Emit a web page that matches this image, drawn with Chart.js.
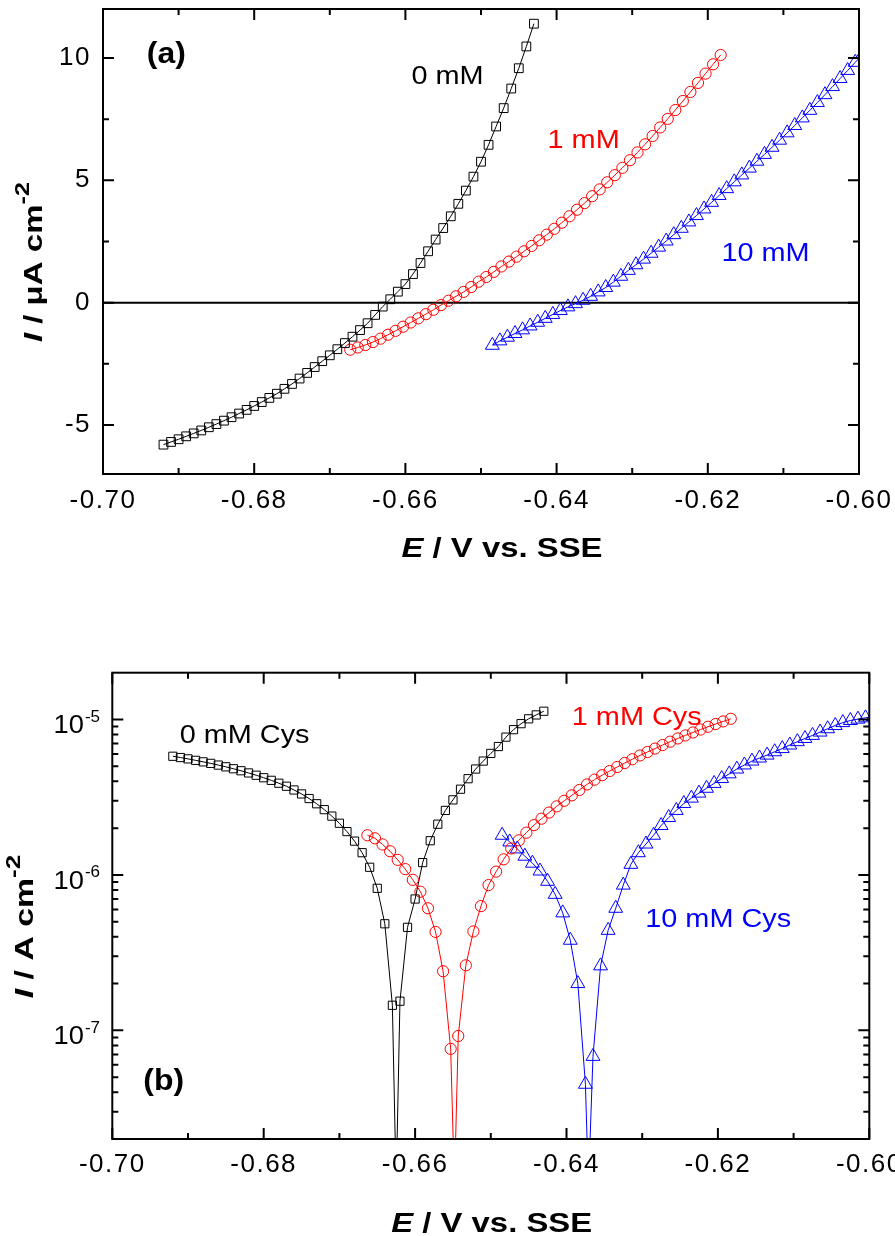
<!DOCTYPE html>
<html>
<head>
<meta charset="utf-8">
<script src="https://cdn.jsdelivr.net/npm/chart.js@4.4.1/dist/chart.umd.min.js"></script>
<style>
html,body{margin:0;padding:0;background:#fff;}
#wrap{position:relative;width:895px;height:1236px;overflow:hidden;background:#fff;}
canvas{position:absolute;left:0;}
#ca{top:0;width:895px;height:600px;}
#cb{top:600px;width:895px;height:636px;}
</style>
</head>
<body>
<div id="wrap">
<canvas id="ca" width="895" height="600"></canvas>
<canvas id="cb" width="895" height="636"></canvas>
</div>
<script>
// ---------------- data ----------------
// potential (V vs. SSE)
const E0 = [-0.692,-0.691,-0.690,-0.689,-0.688,-0.687,-0.686,-0.685,-0.684,-0.683,
            -0.682,-0.681,-0.680,-0.679,-0.678,-0.677,-0.676,-0.675,-0.674,-0.673,
            -0.672,-0.671,-0.670,-0.669,-0.668,-0.667,-0.666,-0.665,-0.664,-0.663,
            -0.662,-0.661,-0.660,-0.659,-0.658,-0.657,-0.656,-0.655,-0.654,-0.653,
            -0.652,-0.651,-0.650,-0.649,-0.648,-0.647,-0.646,-0.645,-0.644,-0.643];
const EA1 = [-0.6673,-0.6663,-0.6653,-0.6643,-0.6633,-0.6623,-0.6613,-0.6603,-0.6593,-0.6583,
             -0.6573,-0.6563,-0.6553,-0.6543,-0.6533,-0.6523,-0.6513,-0.6503,-0.6493,-0.6483,
             -0.6473,-0.6463,-0.6453,-0.6443,-0.6433,-0.6423,-0.6413,-0.6403,-0.6393,-0.6383,
             -0.6373,-0.6363,-0.6353,-0.6343,-0.6333,-0.6323,-0.6313,-0.6303,-0.6293,-0.6283,
             -0.6273,-0.6263,-0.6253,-0.6243,-0.6233,-0.6223,-0.6213,-0.6203,-0.6193,-0.6183];
const EB1 = [-0.6663,-0.6653,-0.6643,-0.6633,-0.6623,-0.6613,-0.6603,-0.6593,-0.6583,-0.6573,
             -0.6563,-0.6553,-0.6543,-0.6533,-0.6523,-0.6513,-0.6503,-0.6493,-0.6483,-0.6473,
             -0.6463,-0.6453,-0.6443,-0.6433,-0.6423,-0.6413,-0.6403,-0.6393,-0.6383,-0.6373,
             -0.6363,-0.6353,-0.6343,-0.6333,-0.6323,-0.6313,-0.6303,-0.6293,-0.6283,-0.6273,
             -0.6263,-0.6253,-0.6243,-0.6233,-0.6223,-0.6213,-0.6203,-0.6193,-0.6183];
const E2 = [-0.6485,-0.6475,-0.6465,-0.6455,-0.6445,-0.6435,-0.6425,-0.6415,-0.6405,-0.6395,
            -0.6385,-0.6375,-0.6365,-0.6355,-0.6345,-0.6335,-0.6325,-0.6315,-0.6305,-0.6295,
            -0.6285,-0.6275,-0.6265,-0.6255,-0.6245,-0.6235,-0.6225,-0.6215,-0.6205,-0.6195,
            -0.6185,-0.6175,-0.6165,-0.6155,-0.6145,-0.6135,-0.6125,-0.6115,-0.6105,-0.6095,
            -0.6085,-0.6075,-0.6065,-0.6055,-0.6045,-0.6035,-0.6025,-0.6015,-0.6005,-0.5995];

// panel (a): current density, µA cm^-2
const IA0 = [-5.80,-5.69,-5.58,-5.46,-5.34,-5.22,-5.09,-4.96,-4.82,-4.68,
             -4.53,-4.38,-4.22,-4.06,-3.89,-3.72,-3.52,-3.32,-3.10,-2.87,
             -2.63,-2.39,-2.15,-1.90,-1.65,-1.39,-1.12,-0.84,-0.50,-0.16,
              0.14, 0.45, 0.76, 1.17, 1.62, 2.10, 2.58, 3.05, 3.53, 4.04,
              4.58, 5.15, 5.76, 6.45, 7.20, 7.95, 8.75, 9.58,10.47,11.40];
const IA1 = [-1.92,-1.83,-1.73,-1.61,-1.47,-1.31,-1.15,-0.98,-0.81,-0.64,
             -0.47,-0.29,-0.10, 0.08, 0.26, 0.44, 0.64, 0.86, 1.05, 1.26,
              1.48, 1.68, 1.88, 2.10, 2.32, 2.55, 2.78, 3.02, 3.27, 3.53,
              3.80, 4.07, 4.35, 4.63, 4.92, 5.21, 5.51, 5.82, 6.14, 6.47,
              6.81, 7.16, 7.51, 7.87, 8.24, 8.61, 8.98, 9.36, 9.74,10.12];
const IA2 = [-1.74,-1.56,-1.41,-1.26,-1.11,-0.95,-0.80,-0.64,-0.48,-0.32,
             -0.17,-0.04, 0.10, 0.26, 0.44, 0.62, 0.84, 1.08, 1.32, 1.55,
              1.78, 2.02, 2.27, 2.52, 2.78, 3.04, 3.30, 3.56, 3.83, 4.10,
              4.38, 4.66, 4.94, 5.22, 5.50, 5.78, 6.06, 6.35, 6.64, 6.94,
              7.24, 7.55, 7.86, 8.18, 8.50, 8.83, 9.16, 9.49, 9.82,10.15];

// panel (b): |I|, A cm^-2
const IB0 = [5.80e-6,5.69e-6,5.58e-6,5.46e-6,5.34e-6,5.22e-6,5.09e-6,4.96e-6,4.82e-6,4.68e-6,
             4.53e-6,4.38e-6,4.22e-6,4.06e-6,3.89e-6,3.72e-6,3.52e-6,3.32e-6,3.10e-6,2.87e-6,
             2.63e-6,2.39e-6,2.15e-6,1.90e-6,1.65e-6,1.39e-6,1.12e-6,8.2e-7,4.85e-7,1.45e-7,
             1.54e-7,4.6e-7,7.0e-7,1.2e-6,1.66e-6,2.12e-6,2.60e-6,3.04e-6,3.56e-6,4.16e-6,
             4.80e-6,5.40e-6,6.05e-6,6.70e-6,7.70e-6,8.60e-6,9.40e-6,1.01e-5,1.07e-5,1.13e-5];
const IB1 = [1.80e-6,1.72e-6,1.57e-6,1.42e-6,1.25e-6,1.09e-6,9.3e-7,7.8e-7,6.1e-7,4.3e-7,
             2.4e-7,7.6e-8,9.2e-8,2.62e-7,4.33e-7,6.3e-7,8.6e-7,1.05e-6,1.26e-6,1.48e-6,
             1.67e-6,1.87e-6,2.09e-6,2.30e-6,2.52e-6,2.76e-6,3.00e-6,3.25e-6,3.52e-6,3.82e-6,
             4.10e-6,4.38e-6,4.66e-6,4.95e-6,5.25e-6,5.55e-6,5.87e-6,6.18e-6,6.50e-6,6.85e-6,
             7.20e-6,7.55e-6,7.90e-6,8.25e-6,8.62e-6,8.98e-6,9.35e-6,9.72e-6,1.01e-5];
const IB2 = [1.80e-6,1.63e-6,1.47e-6,1.32e-6,1.19e-6,1.06e-6,9.1e-7,7.5e-7,5.7e-7,3.8e-7,
             2.0e-7,4.5e-8,6.8e-8,2.6e-7,4.4e-7,6.1e-7,8.6e-7,1.17e-6,1.39e-6,1.58e-6,
             1.80e-6,2.08e-6,2.34e-6,2.60e-6,2.88e-6,3.12e-6,3.36e-6,3.61e-6,3.88e-6,4.17e-6,
             4.47e-6,4.80e-6,5.10e-6,5.40e-6,5.65e-6,5.90e-6,6.20e-6,6.50e-6,6.85e-6,7.20e-6,
             7.55e-6,7.90e-6,8.30e-6,8.72e-6,9.15e-6,9.55e-6,9.85e-6,1.005e-5,1.025e-5,1.045e-5];

// corrosion potentials (where |I| -> 0 in panel b)
const ECORR = [-0.6625, -0.6548, -0.6371];

// axes
const X_MAJOR = [-0.70,-0.68,-0.66,-0.64,-0.62,-0.60];
const X_MINOR = [-0.69,-0.67,-0.65,-0.63,-0.61];
const YA_MAJOR = [-5, 0, 5, 10];
const YA_MINOR = [-2.5, 2.5, 7.5];
const YB_MAJOR = [1e-7, 1e-6, 1e-5];
const YB_MINOR = [3e-8,4e-8,5e-8,6e-8,7e-8,8e-8,9e-8,
                  2e-7,3e-7,4e-7,5e-7,6e-7,7e-7,8e-7,9e-7,
                  2e-6,3e-6,4e-6,5e-6,6e-6,7e-6,8e-6,9e-6];

// series names / annotations
const NAMES_A = ['0 mM', '1 mM', '10 mM'];
const NAMES_B = ['0 mM Cys', '1 mM Cys', '10 mM Cys'];
const COLORS = ['#000000', '#ff0000', '#0000ff'];
const ANNOT_A = [[-0.6592, 8.94], [-0.6412, 6.34], [-0.6182, 1.72]];
const ANNOT_B = [[-0.6911, 7.01e-6], [-0.6393, 9.19e-6], [-0.6296, 4.63e-7]];
const PANEL_A = [-0.6942, 9.81];
const PANEL_B = [-0.6959, 4.12e-8];

// ---------------- rendering ----------------
const FONT = "'Liberation Sans', Arial, Helvetica, sans-serif";
Chart.defaults.font.family = FONT;
Chart.defaults.color = '#000';

const near = (a, b) => Math.abs(a - b) < 1e-9 * Math.max(1, Math.abs(a));
const isMajX = v => X_MAJOR.some(m => near(m, v));
const isMajYA = v => YA_MAJOR.some(m => near(m, v));
const isMajYB = v => YB_MAJOR.some(m => Math.abs(m - v) < m * 1e-6);
const pts = (E, I) => E.map((e, i) => ({x: e, y: I[i]}));
const DIP_FLOOR = 1e-8;
function dipLine(E, I, ec) {
  const d = pts(E, I);
  d.push({x: ec, y: DIP_FLOOR});
  d.sort((p, q) => p.x - q.x);
  return d;
}
const CLEAR = 'rgba(0,0,0,0)';
function markers(data, color, style, r, line) {
  return {data, showLine: line, borderColor: color, borderWidth: 1, backgroundColor: CLEAR,
    pointStyle: style, pointRadius: r, pointHoverRadius: r, pointBorderWidth: 1,
    pointBorderColor: color, pointBackgroundColor: CLEAR, tension: 0};
}
function lineOnly(data, color) {
  return {data, showLine: true, borderColor: color, borderWidth: 1, backgroundColor: CLEAR,
    pointRadius: 0, pointHoverRadius: 0, tension: 0, clip: 0};
}
function noPad(s) { s.paddingTop = 0; s.paddingBottom = 0; s.paddingLeft = 0; s.paddingRight = 0; }

function drawRich(ctx, parts, x, y, o) {
  o = o || {};
  ctx.save();
  ctx.translate(x, y);
  if (o.rotate) ctx.rotate(o.rotate);
  ctx.scale(o.sx || 1, 1);
  ctx.fillStyle = o.color || '#000';
  ctx.textBaseline = 'alphabetic';
  ctx.textAlign = 'left';
  ctx.letterSpacing = '0px';
  const widths = parts.map(p => { ctx.font = p.font; return ctx.measureText(p.text).width; });
  const total = widths.reduce((s, w) => s + w, 0);
  let cx = o.align === 'left' ? 0 : (o.align === 'right' ? -total : -total / 2);
  parts.forEach((p, i) => { ctx.font = p.font; ctx.fillText(p.text, cx, p.dy || 0); cx += widths[i]; });
  ctx.restore();
}

function decoPlugin(cfg) {
  return {
    id: 'deco',
    beforeDraw(chart) { chart.ctx.letterSpacing = '1.5px'; },
    beforeDatasetsDraw(chart) {
      if (!cfg.zeroLine) return;
      const {ctx, chartArea: a, scales: {y}} = chart;
      const py = y.getPixelForValue(0);
      ctx.save();
      ctx.strokeStyle = '#000'; ctx.lineWidth = 2;
      ctx.beginPath(); ctx.moveTo(a.left, py); ctx.lineTo(a.right, py); ctx.stroke();
      ctx.restore();
    },
    afterDatasetsDraw(chart) {
      const {ctx, chartArea: a, scales: {x, y}} = chart;
      ctx.save();
      ctx.strokeStyle = '#000'; ctx.lineWidth = 2;
      ctx.strokeRect(a.left, a.top, a.right - a.left, a.bottom - a.top);
      ctx.beginPath();
      x.ticks.forEach(t => {
        const p = x.getPixelForValue(t.value), L = isMajX(t.value) ? 11 : 6;
        ctx.moveTo(p, a.bottom); ctx.lineTo(p, a.bottom - L);
        ctx.moveTo(p, a.top); ctx.lineTo(p, a.top + L);
      });
      y.ticks.forEach(t => {
        const p = y.getPixelForValue(t.value), L = cfg.isMajY(t.value) ? 11 : 6;
        ctx.moveTo(a.left, p); ctx.lineTo(a.left + L, p);
        ctx.moveTo(a.right, p); ctx.lineTo(a.right - L, p);
      });
      ctx.stroke();
      ctx.restore();
    },
    afterDraw(chart) { cfg.decorate(chart); }
  };
}

function xScale(height, padding) {
  return {
    type: 'linear', min: -0.70, max: -0.60,
    afterBuildTicks: s => { s.ticks = X_MAJOR.concat(X_MINOR).sort((p, q) => p - q).map(v => ({value: v})); },
    afterFit: s => { s.height = height; noPad(s); },
    grid: {display: false, drawTicks: false}, border: {display: false},
    ticks: {autoSkip: false, maxRotation: 0, minRotation: 0, padding: padding, color: '#000',
            font: {size: 26}, callback: v => isMajX(v) ? v.toFixed(2) : ''}
  };
}

const REG = '26px ' + FONT, BOLD = 'bold 28px ' + FONT;

// ---------- panel (a) ----------
new Chart(document.getElementById('ca'), {
  type: 'scatter',
  data: {datasets: [
    markers(pts(E0, IA0), COLORS[0], 'rect', 6.2, true),
    markers(pts(EA1, IA1), COLORS[1], 'circle', 5.6, true),
    markers(pts(E2, IA2), COLORS[2], 'triangle', 8, true)
  ]},
  options: {
    responsive: false, animation: false, devicePixelRatio: 1,
    layout: {padding: {left: 0, right: 36, top: 8, bottom: 0}},
    plugins: {legend: {display: false}, tooltip: {enabled: false}},
    events: [],
    scales: {
      x: xScale(126, 11),
      y: {
        type: 'linear', min: -7, max: 12,
        afterBuildTicks: s => { s.ticks = YA_MAJOR.concat(YA_MINOR).sort((p, q) => p - q).map(v => ({value: v})); },
        afterFit: s => { s.width = 103; noPad(s); },
        grid: {display: false, drawTicks: false}, border: {display: false},
        ticks: {autoSkip: false, padding: 12, color: '#000', font: {size: 26},
                callback: v => isMajYA(v) ? String(v) : ''}
      }
    }
  },
  plugins: [decoPlugin({
    zeroLine: true, isMajY: isMajYA,
    decorate(chart) {
      const {ctx, scales: {x, y}} = chart;
      drawRich(ctx, [{text: '(a)', font: 'bold 29px ' + FONT}],
        x.getPixelForValue(PANEL_A[0]), y.getPixelForValue(PANEL_A[1]), {align: 'left', sx: 1.1});
      NAMES_A.forEach((n, i) => drawRich(ctx, [{text: n, font: REG}],
        x.getPixelForValue(ANNOT_A[i][0]), y.getPixelForValue(ANNOT_A[i][1]),
        {align: 'left', sx: 1.11, color: COLORS[i]}));
      drawRich(ctx, [{text: 'E', font: 'italic ' + BOLD}, {text: ' / V vs. SSE', font: BOLD}],
        502, 556.7, {sx: 1.174});
      drawRich(ctx, [{text: 'I', font: 'italic bold 26px ' + FONT},
                     {text: ' / \u03bcA cm', font: 'bold 26px ' + FONT},
                     {text: '-2', font: 'bold 20px ' + FONT, dy: -13}],
        42, 262, {rotate: -Math.PI / 2, sx: 1.27});
    }
  })]
});

// ---------- panel (b) ----------
new Chart(document.getElementById('cb'), {
  type: 'scatter',
  data: {datasets: [
    markers(pts(E0, IB0), COLORS[0], 'rect', 5.8, false),
    markers(pts(EB1, IB1), COLORS[1], 'circle', 5.6, false),
    markers(pts(E2, IB2), COLORS[2], 'triangle', 8, false),
    lineOnly(dipLine(E0, IB0, ECORR[0]), COLORS[0]),
    lineOnly(dipLine(EB1, IB1, ECORR[1]), COLORS[1]),
    lineOnly(dipLine(E2, IB2, ECORR[2]), COLORS[2])
  ]},
  options: {
    responsive: false, animation: false, devicePixelRatio: 1,
    layout: {padding: {left: 0, right: 25.7, top: 72.7, bottom: 0}},
    plugins: {legend: {display: false}, tooltip: {enabled: false}},
    events: [],
    scales: {
      x: xScale(97, 10.4),
      y: {
        type: 'logarithmic', min: 2e-8, max: 2e-5,
        afterBuildTicks: s => { s.ticks = YB_MAJOR.concat(YB_MINOR).sort((p, q) => p - q).map(v => ({value: v})); },
        afterFit: s => { s.width = 112.3; noPad(s); },
        grid: {display: false, drawTicks: false}, border: {display: false},
        ticks: {display: false}
      }
    }
  },
  plugins: [decoPlugin({
    zeroLine: false, isMajY: isMajYB,
    decorate(chart) {
      const {ctx, chartArea: a, scales: {x, y}} = chart;
      // log tick labels 10^n
      YB_MAJOR.forEach(v => {
        const py = y.getPixelForValue(v);
        const exp = String(Math.round(Math.log10(v)));
        ctx.save();
        ctx.letterSpacing = '0px';
        ctx.font = '17px ' + FONT;
        const sw = ctx.measureText(exp).width;
        ctx.restore();
        drawRich(ctx, [{text: exp, font: '17px ' + FONT}], a.left - 12.3, py + 2.4, {align: 'right'});
        drawRich(ctx, [{text: '10', font: '26px ' + FONT}], a.left - 12.3 - sw - 1, py + 14, {align: 'right', sx: 1.05});
      });
      drawRich(ctx, [{text: '(b)', font: 'bold 29px ' + FONT}],
        x.getPixelForValue(PANEL_B[0]), y.getPixelForValue(PANEL_B[1]), {align: 'left', sx: 1.1});
      NAMES_B.forEach((n, i) => drawRich(ctx, [{text: n, font: REG}],
        x.getPixelForValue(ANNOT_B[i][0]), y.getPixelForValue(ANNOT_B[i][1]),
        {align: 'left', sx: 1.11, color: COLORS[i]}));
      drawRich(ctx, [{text: 'E', font: 'italic ' + BOLD}, {text: ' / V vs. SSE', font: BOLD}],
        491.7, 631.7, {sx: 1.174});
      drawRich(ctx, [{text: 'I', font: 'italic bold 26px ' + FONT},
                     {text: ' / A cm', font: 'bold 26px ' + FONT},
                     {text: '-2', font: 'bold 20px ' + FONT, dy: -13}],
        33, 326.5, {rotate: -Math.PI / 2, sx: 1.3});
    }
  })]
});
</script>
</body>
</html>
